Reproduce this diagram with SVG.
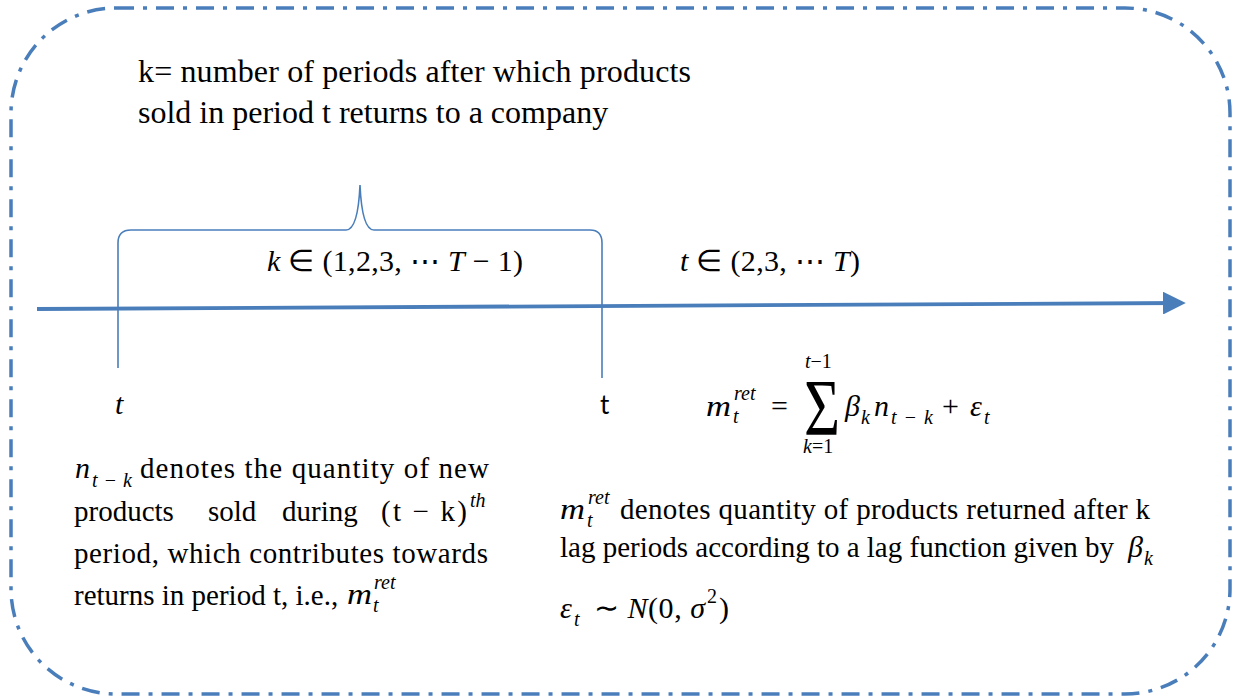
<svg xmlns="http://www.w3.org/2000/svg" width="1233" height="700" viewBox="0 0 1233 700">
<defs>
<style>
text{font-family:"Liberation Serif","Times New Roman",serif;font-size:29px;fill:#000}
.top{font-size:32px}
.mm{font-size:30px}
.i{font-style:italic}
.s{font-size:20px}
.sans{font-family:Lato,"Liberation Sans",sans-serif;font-size:26px}
.blue{stroke:#4A7EBB;fill:none}
</style>
<marker id="ah" markerWidth="6" markerHeight="6" refX="5" refY="3" orient="auto" markerUnits="strokeWidth">
<path d="M0,0 L6,3 L0,6 z" fill="#4A7EBB"/>
</marker>
</defs>
<rect width="1233" height="700" fill="#fff"/>
<g id="frame">
<rect x="11" y="8" width="1219" height="686" rx="105" ry="105" class="blue" stroke-width="3.5" stroke-dasharray="18 9 4 9"/>
</g>
<g id="connectors">
<line x1="37" y1="309" x2="1182" y2="303" class="blue" stroke-width="3.8" marker-end="url(#ah)"/>
<path d="M118,368 L118,243 Q118,230 131,230 L346,230 Q358,230 360,185 Q362,230 374,230 L590,230 Q602,230 602,243 L602,378" class="blue" stroke-width="1.6"/>
</g>
<g id="title">
<text class="top" x="138" y="82" textLength="553" lengthAdjust="spacing">k= number of periods after which products</text>
<text class="top" x="138" y="123">sold in period t returns to a company</text>
</g>
<g id="k-range">
<text class="mm" x="267" y="271" textLength="256" lengthAdjust="spacing"><tspan class="i">k</tspan> ∈  (1,2,3, ⋯ <tspan class="i">T</tspan> − 1)</text>
</g>
<g id="t-range">
<text class="mm" x="680" y="271" textLength="180" lengthAdjust="spacing"><tspan class="i">t</tspan> ∈  (2,3, ⋯ <tspan class="i">T</tspan>)</text>
</g>
<g id="t-left">
<text class="mm i" x="115" y="414">t</text>
</g>
<g id="t-right">
<text class="sans" x="600" y="414">t</text>
</g>
<g id="formula">
<text class="mm i" x="706" y="416" textLength="25" lengthAdjust="spacingAndGlyphs">m</text>
<text class="s i" x="734" y="400">ret</text>
<text class="s i" x="733" y="423">t</text>
<text class="mm" x="771" y="416">=</text>
<text transform="translate(804,435) scale(1,1.3)" style="font-size:62px">Σ</text>
<text class="s" x="805" y="368"><tspan class="i">t</tspan>−1</text>
<text class="s" x="803" y="453"><tspan class="i">k</tspan>=1</text>
<text class="mm i" x="845" y="416">β</text>
<text class="s i" x="861" y="424">k</text>
<text class="mm i" x="874" y="416">n</text>
<text class="s" x="891" y="424" textLength="42" lengthAdjust="spacing"><tspan class="i">t</tspan>−<tspan class="i">k</tspan></text>
<text class="mm" x="942" y="416">+</text>
<text class="mm i" x="970" y="416">ε</text>
<text class="s i" x="984" y="424">t</text>
</g>
<g id="left-note">
<text class="mm i" x="75" y="478">n</text>
<text class="s" x="92" y="487" textLength="40" lengthAdjust="spacing"><tspan class="i">t</tspan>−<tspan class="i">k</tspan></text>
<text x="140" y="478" textLength="349" lengthAdjust="spacing">denotes the quantity of new</text>
<text x="74" y="521">products</text>
<text x="208" y="521">sold</text>
<text x="282" y="521">during</text>
<text x="381" y="521" textLength="86" lengthAdjust="spacing">(t − k)</text>
<text class="s i" x="470" y="507">th</text>
<text x="74" y="563" textLength="414" lengthAdjust="spacing">period, which contributes towards</text>
<text x="74" y="605">returns in period t, i.e., </text>
<text class="mm i" x="347" y="604" textLength="25" lengthAdjust="spacingAndGlyphs">m</text>
<text class="s i" x="374" y="589">ret</text>
<text class="s i" x="373" y="612">t</text>
</g>
<g id="right-note">
<text class="mm i" x="560" y="519" textLength="25" lengthAdjust="spacingAndGlyphs">m</text>
<text class="s i" x="588" y="504">ret</text>
<text class="s i" x="587" y="527">t</text>
<text x="620" y="519" textLength="530" lengthAdjust="spacing">denotes quantity of products returned after k</text>
<text x="560" y="557">lag periods according to a lag function given by </text>
<text class="mm i" x="1128" y="557">β</text>
<text class="s i" x="1144" y="565">k</text>
<text class="mm i" x="560" y="618">ε</text>
<text class="s i" x="574" y="626">t</text>
<text class="mm" x="594" y="618" textLength="111" lengthAdjust="spacing">∼ <tspan class="i">N</tspan>(0, <tspan class="i">σ</tspan></text>
<text class="s" x="707" y="603">2</text>
<text class="mm" x="719" y="618">)</text>
</g>
</svg>
